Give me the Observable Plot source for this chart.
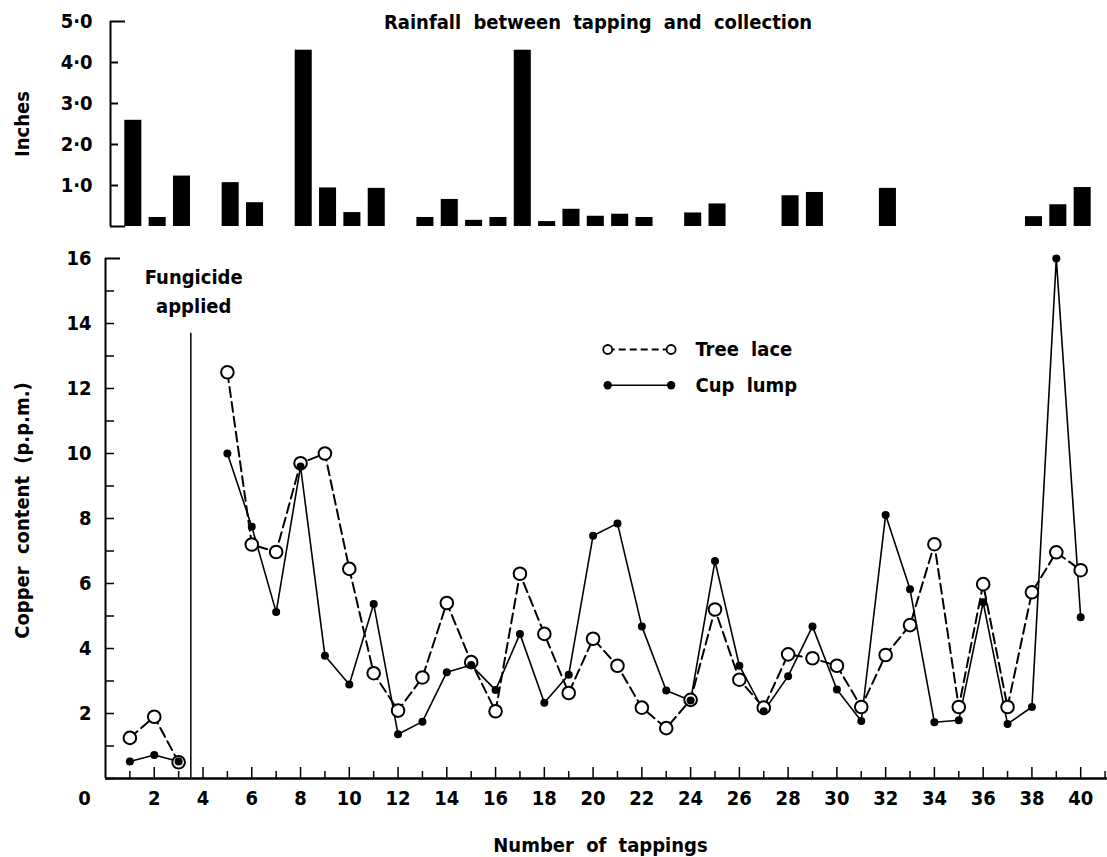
<!DOCTYPE html>
<html><head><meta charset="utf-8">
<script src="https://cdn.jsdelivr.net/npm/d3@7"></script>
<script src="https://cdn.jsdelivr.net/npm/@observablehq/plot@0.6"></script>
<style>
body{margin:0;background:#fff;}
#wrap{position:relative;width:1107px;height:857px;background:#fff;}
#top,#bottom{position:absolute;left:0;}
#top{top:0}
#bottom{top:240px}
svg text{font-family:"DejaVu Sans Condensed","DejaVu Sans",sans-serif;font-stretch:condensed;font-weight:bold;word-spacing:6px;fill:#000;}
</style></head><body><div id="wrap"><div id="top"></div><div id="bottom"></div></div>
<script>
// ---- data ----
const tappings = [1,2,3,4,5,6,7,8,9,10,11,12,13,14,15,16,17,18,19,20,21,22,23,24,25,26,27,28,29,30,31,32,33,34,35,36,37,38,39,40];
const treeLace = [1.25,1.9,0.5,null,12.5,7.2,6.97,9.7,10.0,6.45,3.24,2.09,3.11,5.4,3.58,2.07,6.3,4.45,2.63,4.3,3.47,2.18,1.55,2.42,5.2,3.04,2.18,3.82,3.7,3.47,2.2,3.8,4.72,7.21,2.2,5.98,2.2,5.73,6.96,6.41];
const cupLump = [0.52,0.72,0.52,null,10.0,7.75,5.12,9.6,3.78,2.89,5.37,1.36,1.75,3.27,3.49,2.72,4.45,2.33,3.19,7.47,7.85,4.68,2.71,2.4,6.69,3.47,2.07,3.15,4.68,2.74,1.77,8.11,5.82,1.73,1.79,5.42,1.68,2.2,16.0,4.96];
const rainTappings = [1,2,3,5,6,8,9,10,11,13,14,15,16,17,18,19,20,21,22,24,25,28,29,32,38,39,40];
const rainInches = [2.59,0.22,1.23,1.07,0.58,4.3,0.94,0.34,0.93,0.22,0.66,0.15,0.22,4.3,0.12,0.42,0.25,0.3,0.22,0.33,0.55,0.75,0.83,0.93,0.24,0.53,0.95];
const rainTicks = [1,2,3,4,5];
const copperTicks = [2,4,6,8,10,12,14,16];
const tappingTicks = [2,4,6,8,10,12,14,16,18,20,22,24,26,28,30,32,34,36,38,40];
const seriesNames = ["Tree lace","Cup lump"];
const fungicideDay = 3.5;

const FONT = {fontSize:"20px", fontFamily:'"DejaVu Sans Condensed","DejaVu Sans",sans-serif', background:"#fff", color:"#000"};

// ---- top: rainfall ----
const rain = rainTappings.map((t,i)=>({t, inches: rainInches[i]}));
const topDomain = [0.063, 41.02];
const topFrameW = 1107 - 110;
const topPlot = Plot.plot({
  width:1107, height:240, marginLeft:110, marginRight:0, marginTop:21, marginBottom:14,
  style: FONT,
  x:{domain: topDomain, axis:null},
  y:{domain:[0,5]},
  marks:[
    Plot.rectY(rain, {x1: d=>d.t-0.35, x2: d=>d.t+0.35, y:"inches", fill:"#000"}),
    Plot.ruleX([topDomain[0]], {strokeWidth:2}),
    Plot.tickY([1,2,3,4], {y:d=>d, insetRight: topFrameW-8, strokeWidth:2}),
    Plot.tickY([0,5], {y:d=>d, insetRight: topFrameW-15, strokeWidth:2}),
    Plot.axisY({ticks: rainTicks, tickFormat: d=>d.toFixed(1).replace(".","·"), tickSize:0, tickPadding:18, label:null}),
    Plot.text(["Inches"], {frameAnchor:"left", textAnchor:"middle", dx:-88, rotate:-90}),
    Plot.text(["Rainfall between tapping and collection"], {frameAnchor:"top", lineAnchor:"middle", dx:-11, dy:1})
  ]
});
document.getElementById("top").appendChild(topPlot);

// ---- bottom: copper content ----
const rows = tappings.map((t,i)=>({t, tree: treeLace[i], cup: cupLump[i]}));
const frameW = 1107 - 105;
const frameH = 617 - 18 - 79;
const allX = d3.range(1, 42);
const bottomPlot = Plot.plot({
  width:1107, height:617, marginLeft:105, marginRight:0, marginTop:18, marginBottom:79,
  style: FONT,
  x:{domain:[0,41.1]},
  y:{domain:[0,16]},
  marks:[
    Plot.ruleX([fungicideDay], {y1:0, y2:13.7, strokeWidth:1.5}),
    Plot.text(["Fungicide\napplied"], {x:3.62, y:15.05, lineHeight:1.45}),
    Plot.line(rows, {x:"t", y:"tree", strokeDasharray:"10,5", strokeWidth:2}),
    Plot.line(rows, {x:"t", y:"cup", strokeWidth:1.6}),
    Plot.dot(rows, {x:"t", y:"tree", r:6.3, fill:"#fff", stroke:"#000", strokeWidth:2}),
    Plot.dot(rows, {x:"t", y:"cup", r:4, fill:"#000"}),
    // legend
    Plot.link([0], {x1:20.6, x2:23.2, y1:13.2, y2:13.2, strokeDasharray:"7,4", strokeWidth:2}),
    Plot.dot([[20.6,13.2],[23.2,13.2]], {r:4.5, fill:"#fff", stroke:"#000", strokeWidth:1.8}),
    Plot.link([0], {x1:20.6, x2:23.2, y1:12.1, y2:12.1, strokeWidth:1.6}),
    Plot.dot([[20.6,12.1],[23.2,12.1]], {r:4.2, fill:"#000"}),
    Plot.text([seriesNames[0]], {x:24.2, y:13.2, textAnchor:"start"}),
    Plot.text([seriesNames[1]], {x:24.2, y:12.1, textAnchor:"start"}),
    // axes
    Plot.ruleY([0], {strokeWidth:2.5}),
    Plot.ruleX([0], {strokeWidth:2}),
    Plot.tickX(allX.filter(d=>d%2===1), {x:d=>d, insetTop: frameH-7, strokeWidth:1.5}),
    Plot.tickX(allX.filter(d=>d%2===0), {x:d=>d, insetTop: frameH-11, strokeWidth:1.5}),
    Plot.tickY(d3.range(0,16), {y:d=>d, insetRight: frameW-9, strokeWidth:1.5}),
    Plot.tickY([16], {y:d=>d, insetRight: frameW-15, strokeWidth:2}),
    Plot.axisX({ticks: tappingTicks, tickSize:0, tickPadding:12, label:null}),
    Plot.axisY({ticks: copperTicks, tickSize:0, tickPadding:14, label:null}),
    Plot.text(["0"], {x:0, y:0, dx:-21, dy:20}),
    Plot.text(["Copper content (p.p.m.)"], {frameAnchor:"left", textAnchor:"middle", dx:-83, dy:-8, rotate:-90}),
    Plot.text(["Number of tappings"], {frameAnchor:"bottom", lineAnchor:"middle", dx:-6, dy:67})
  ]
});
document.getElementById("bottom").appendChild(bottomPlot);
</script>
</body></html>
